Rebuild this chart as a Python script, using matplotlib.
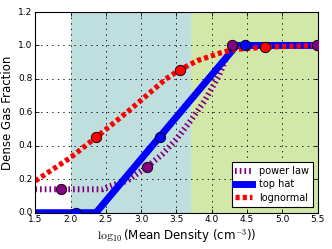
import matplotlib
matplotlib.use("Agg")
import matplotlib.pyplot as plt

plt.style.use('classic')
plt.rcParams['mathtext.fontset'] = 'cm'
plt.rcParams['font.family'] = ['DejaVu Sans']
plt.rcParams['lines.scale_dashes'] = False

# data
pl_x = [1.5, 2.45, 2.6, 2.8, 2.9, 3.1, 3.3, 3.5, 3.7, 3.9, 4.1, 4.28, 5.5]
pl_y = [0.14, 0.14, 0.165, 0.19, 0.22, 0.28, 0.35, 0.44, 0.55, 0.67, 0.82, 1.0, 1.0]
th_x = [1.5, 2.36, 4.35, 5.5]
th_y = [0.0, 0.0, 1.0, 1.0]
ln_x = [1.5, 2.0, 2.36, 2.84, 3.35, 3.55, 3.8, 4.12, 4.3, 4.75, 5.5]
ln_y = [0.19, 0.33, 0.45, 0.615, 0.80, 0.855, 0.91, 0.955, 0.975, 0.99, 1.0]

pl_mx = [1.87, 3.08, 4.28, 5.49]
pl_my = [0.14, 0.275, 1.0, 1.0]
th_mx = [2.07, 3.27, 4.47]
th_my = [0.0, 0.45, 1.0]
ln_mx = [2.36, 3.55, 4.75]
ln_my = [0.45, 0.855, 0.993]

regions = [(2.0, 3.7, '#bfdfdf'), (3.7, 5.5, '#d1e8a9')]

fig = plt.figure(figsize=(3.32, 2.49), dpi=100, facecolor='white')
ax = fig.add_axes([0.1063, 0.1458, 0.8506, 0.8060])
ax.set_facecolor('white')
ax.set_axisbelow('line')

for x0, x1, c in regions:
    ax.axvspan(x0, x1, color=c, lw=0, zorder=0.5)

l1, = ax.plot(pl_x, pl_y, color='purple', lw=4.3, label='power law')
l1.set_dashes([1.2, 2.2])
l1.set_dash_capstyle('butt')
l2, = ax.plot(th_x, th_y, color='blue', lw=5.0, label='top hat')
l3, = ax.plot(ln_x, ln_y, color='red', lw=3.8, label='lognormal')
l3.set_dashes([3.0, 2.2])
l3.set_dash_capstyle('butt')

ms = 7.5
ax.plot(pl_mx, pl_my, 'o', color='purple', mec='black', mew=0.6, ms=ms, zorder=5)
ax.plot(th_mx, th_my, 'o', color='blue', mec='black', mew=0.6, ms=ms, zorder=5)
ax.plot(ln_mx, ln_my, 'o', color='red', mec='black', mew=0.6, ms=ms, zorder=5)

ax.set_xlim(1.5, 5.5)
ax.set_ylim(0.0, 1.2)
ax.set_xticks([1.5, 2.0, 2.5, 3.0, 3.5, 4.0, 4.5, 5.0, 5.5])
ax.set_yticks([0.0, 0.2, 0.4, 0.6, 0.8, 1.0, 1.2])
ax.tick_params(labelsize=6.5, length=3, width=0.6, pad=2)
ax.grid(True, color='black', linestyle=':', linewidth=0.6)
for s in ax.spines.values():
    s.set_linewidth(0.8)

ax.set_xlabel(r'$\log_{10}$(Mean Density (cm$^{-3}$))', fontsize=8.5, labelpad=2)
ax.set_ylabel('Dense Gas Fraction', fontsize=8.5, labelpad=3)

leg = ax.legend(loc='lower right', fontsize=7, handlelength=1.65, numpoints=1,
                borderpad=0.4, labelspacing=0.35, handletextpad=0.8,
                borderaxespad=0.0, fancybox=False, framealpha=1.0,
                bbox_to_anchor=(0.984, 0.03))
leg.get_frame().set_linewidth(0.8)

fig.savefig('out.png', dpi=100, facecolor='white')
